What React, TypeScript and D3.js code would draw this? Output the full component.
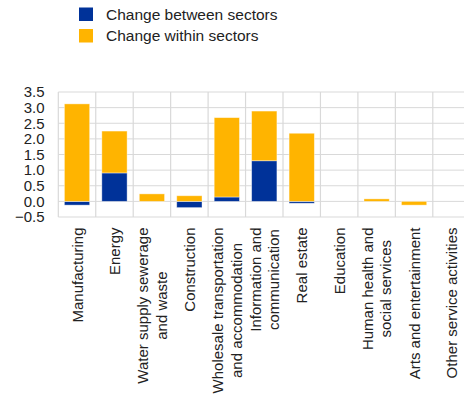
import React from "react";
import * as d3 from "d3";

const categories = [
  "Manufacturing",
  "Energy",
  "Water supply sewerage|and waste",
  "Construction",
  "Wholesale transportation|and accommodation",
  "Information and|communication",
  "Real estate",
  "Education",
  "Human health and|social services",
  "Arts and entertainment",
  "Other service activities",
];
const between = [-0.12, 0.91, 0, -0.2, 0.14, 1.3, -0.06, 0, 0, 0, 0];
const within = [3.12, 1.34, 0.24, 0.18, 2.54, 1.59, 2.18, 0, 0.08, -0.12, 0];
const yTicks = [-0.5, 0, 0.5, 1, 1.5, 2, 2.5, 3, 3.5];
const seriesNames = ["Change between sectors", "Change within sectors"];
const colors = ["#003299", "#FFB400"];

const W = 464;
const H = 403;
const FONT = "'Liberation Sans', Arial, sans-serif";

let ctx: CanvasRenderingContext2D | null = null;
function measure(t: string, size: number) {
  if (!ctx) ctx = document.createElement("canvas").getContext("2d");
  if (!ctx) return t.length * size * 0.5;
  ctx.font = `${size}px ${FONT}`;
  return ctx.measureText(t).width;
}

export default function App() {
  const left = 58.3;
  const bandW = 37.45;
  const x = d3
    .scaleBand<string>()
    .domain(categories)
    .range([left, left + bandW * categories.length])
    .padding(0);
  const y = d3.scaleLinear().domain([-0.5, 3.5]).range([217, 92]);

  const rows = categories.map((c, i) => ({ cat: c, b: between[i], w: within[i] }));
  const stack = d3
    .stack<any>()
    .keys(["b", "w"])
    .offset(d3.stackOffsetDiverging);
  const stacked = stack(rows);
  const barW = x.bandwidth() * 0.675;

  const labelTop = 227.5;
  const fs = 15;
  const lineH = 18.5;

  return (
    <svg
      width={W}
      height={H}
      style={{ position: "absolute", left: 0, top: 0, fontFamily: FONT }}
    >
      <rect x={0} y={0} width={W} height={H} fill="#fff" />
      {/* legend */}
      {seriesNames.map((s, i) => (
        <g key={s}>
          <rect x={79} y={7.5 + i * 21.5} width={14} height={13.5} fill={colors[i]} />
          <text x={106} y={19.5 + i * 21.5} fontSize={15.5} fill="#222">
            {s}
          </text>
        </g>
      ))}
      {/* grid */}
      {yTicks.map((t) => (
        <line
          key={"h" + t}
          x1={left}
          x2={W + 10}
          y1={y(t)}
          y2={y(t)}
          stroke="#d9d9d9"
          strokeWidth={1}
        />
      ))}
      {categories.map((c) => (
        <line
          key={"v" + c}
          x1={x(c)}
          x2={x(c)}
          y1={y(3.5)}
          y2={y(-0.5)}
          stroke="#d9d9d9"
          strokeWidth={1.2}
        />
      ))}
      {/* y labels */}
      {yTicks.map((t) => (
        <text
          key={"t" + t}
          x={44.5}
          y={y(t) + 5.3}
          textAnchor="end"
          fontSize={fs}
          fill="#222"
        >
          {d3.format(".1f")(t)}
        </text>
      ))}
      {/* bars */}
      {stacked.map((layer, li) => (
        <g key={layer.key} fill={colors[li]}>
          {layer.map((d, i) => {
            const y0 = y(d[0]);
            const y1 = y(d[1]);
            const h = Math.abs(y0 - y1);
            if (h < 0.01) return null;
            const cx = (x(categories[i]) as number) + x.bandwidth() / 2;
            return (
              <rect
                key={i}
                x={cx - barW / 2}
                y={Math.min(y0, y1)}
                width={barW}
                height={h}
                stroke="#fff"
                strokeOpacity={0.5}
                strokeWidth={0.8}
              />
            );
          })}
        </g>
      ))}
      {/* x labels */}
      {categories.map((c) => {
        const lines = c.split("|");
        const widths = lines.map((l) => measure(l, fs));
        const maxW = Math.max(...widths);
        const cx = (x(c) as number) + x.bandwidth() / 2;
        return (
          <g key={"l" + c} transform={`translate(${cx},${labelTop}) rotate(-90)`}>
            {lines.map((l, i) => (
              <text
                key={i}
                x={-maxW / 2}
                y={5.5 + (i - (lines.length - 1) / 2) * lineH}
                textAnchor="middle"
                fontSize={fs}
                fill="#222"
              >
                {l}
              </text>
            ))}
          </g>
        );
      })}
    </svg>
  );
}
